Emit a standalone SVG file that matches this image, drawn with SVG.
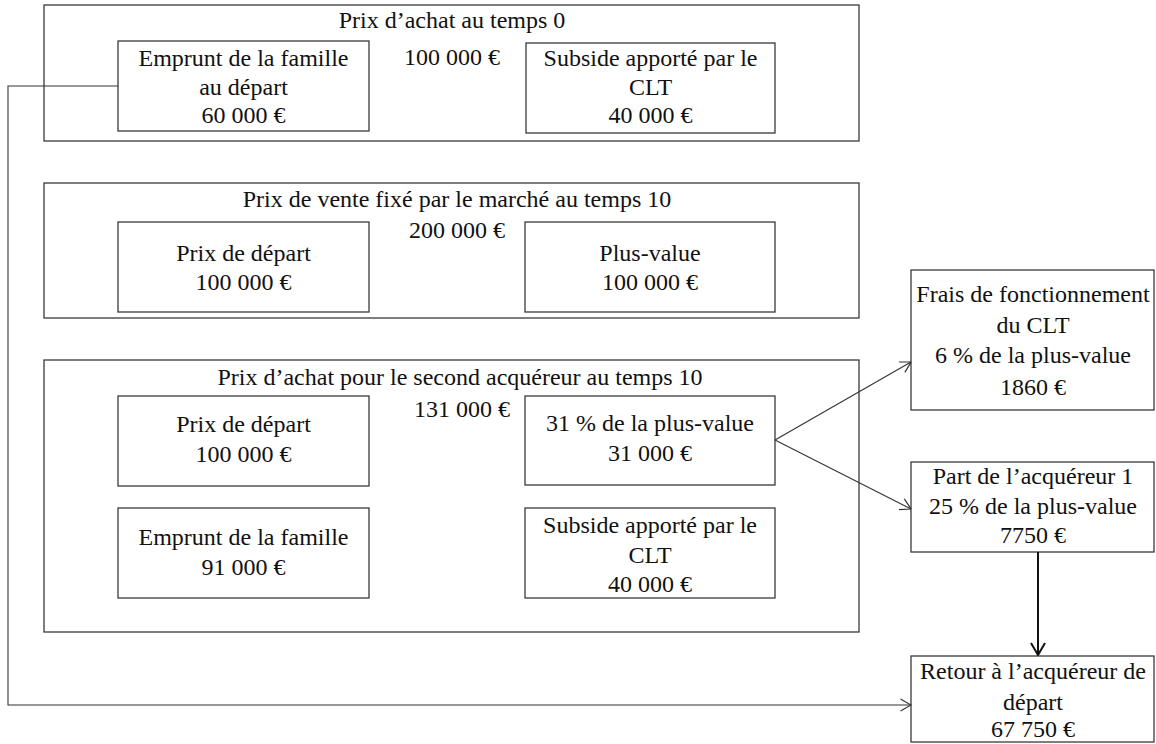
<svg xmlns="http://www.w3.org/2000/svg" width="1156" height="744" viewBox="0 0 1156 744">
<style>
.box{fill:#fff;stroke:#3a3a3a;stroke-width:1.3}
.t{font-family:"Liberation Serif","Times New Roman",serif;font-size:24px;fill:#111;text-anchor:middle}
.c{fill:none;stroke:#333;stroke-width:1.1}
.cb{fill:none;stroke:#111;stroke-width:2}
</style>
<defs>
<marker id="arr" viewBox="0 0 12 14" refX="11.5" refY="7" markerWidth="12" markerHeight="14" orient="auto" markerUnits="userSpaceOnUse">
<path d="M1,1 L11.5,7 L1,13" fill="none" stroke="#333" stroke-width="1.2"/>
</marker>
<marker id="arrb" viewBox="0 0 14 16" refX="13" refY="8" markerWidth="14" markerHeight="16" orient="auto" markerUnits="userSpaceOnUse">
<path d="M1,1 L13,8 L1,15" fill="none" stroke="#111" stroke-width="2"/>
</marker>
</defs>
<rect width="1156" height="744" fill="#fff"/>

<g id="box-achat-t0">
<rect class="box" x="44" y="5" width="815" height="136"/>
<text class="t" x="452" y="28">Prix d’achat au temps 0</text>
<text class="t" x="452" y="65">100 000 €</text>
</g>
<g id="emprunt-depart">
<rect class="box" x="118" y="41" width="251" height="90"/>
<text class="t" x="243.5" y="66">Emprunt de la famille</text>
<text class="t" x="243.5" y="95">au départ</text>
<text class="t" x="243.5" y="123">60 000 €</text>
</g>
<g id="subside-t0">
<rect class="box" x="526" y="43" width="249" height="90"/>
<text class="t" x="650.5" y="66">Subside apporté par le</text>
<text class="t" x="650.5" y="95">CLT</text>
<text class="t" x="650.5" y="123">40 000 €</text>
</g>

<g id="box-vente-t10">
<rect class="box" x="44" y="183" width="815" height="135"/>
<text class="t" x="457" y="207">Prix de vente fixé par le marché au temps 10</text>
<text class="t" x="457" y="238">200 000 €</text>
</g>
<g id="prix-depart-vente">
<rect class="box" x="118" y="222" width="251" height="90"/>
<text class="t" x="243.5" y="261">Prix de départ</text>
<text class="t" x="243.5" y="290">100 000 €</text>
</g>
<g id="plus-value">
<rect class="box" x="525" y="222" width="250" height="90"/>
<text class="t" x="650" y="261">Plus-value</text>
<text class="t" x="650" y="290">100 000 €</text>
</g>

<g id="box-achat-second">
<rect class="box" x="44" y="360" width="815" height="272"/>
<text class="t" x="460" y="385">Prix d’achat pour le second acquéreur au temps 10</text>
<text class="t" x="462" y="417">131 000 €</text>
</g>
<g id="prix-depart-second">
<rect class="box" x="118" y="396" width="251" height="90"/>
<text class="t" x="243.5" y="432">Prix de départ</text>
<text class="t" x="243.5" y="462">100 000 €</text>
</g>
<g id="pct31">
<rect class="box" x="525" y="396" width="250" height="89"/>
<text class="t" x="650" y="431">31 % de la plus-value</text>
<text class="t" x="650" y="461">31 000 €</text>
</g>
<g id="emprunt-second">
<rect class="box" x="118" y="508" width="251" height="90"/>
<text class="t" x="243.5" y="545">Emprunt de la famille</text>
<text class="t" x="243.5" y="575">91 000 €</text>
</g>
<g id="subside-second">
<rect class="box" x="525" y="508" width="250" height="90"/>
<text class="t" x="650" y="533">Subside apporté par le</text>
<text class="t" x="650" y="563">CLT</text>
<text class="t" x="650" y="592">40 000 €</text>
</g>

<g id="frais-clt">
<rect class="box" x="911" y="270" width="243" height="140"/>
<text class="t" x="1033" y="302">Frais de fonctionnement</text>
<text class="t" x="1033" y="333">du CLT</text>
<text class="t" x="1033" y="363">6 % de la plus-value</text>
<text class="t" x="1033" y="395">1860 €</text>
</g>
<g id="part-acquereur1">
<rect class="box" x="911" y="462" width="243" height="90"/>
<text class="t" x="1033" y="484">Part de l’acquéreur 1</text>
<text class="t" x="1033" y="514">25 % de la plus-value</text>
<text class="t" x="1033" y="543">7750 €</text>
</g>
<g id="retour">
<rect class="box" x="911" y="656" width="243" height="86"/>
<text class="t" x="1033" y="679">Retour à l’acquéreur de</text>
<text class="t" x="1033" y="710">départ</text>
<text class="t" x="1033" y="737">67 750 €</text>
</g>

<g id="connectors">
<polyline class="c" points="118,86 8,86 8,705 911,705" marker-end="url(#arr)"/>
<line class="c" x1="775" y1="440" x2="911" y2="362" marker-end="url(#arr)"/>
<line class="c" x1="775" y1="440" x2="911" y2="509" marker-end="url(#arr)"/>
<line class="cb" x1="1038" y1="552" x2="1038" y2="655" marker-end="url(#arrb)"/>
</g>
</svg>
